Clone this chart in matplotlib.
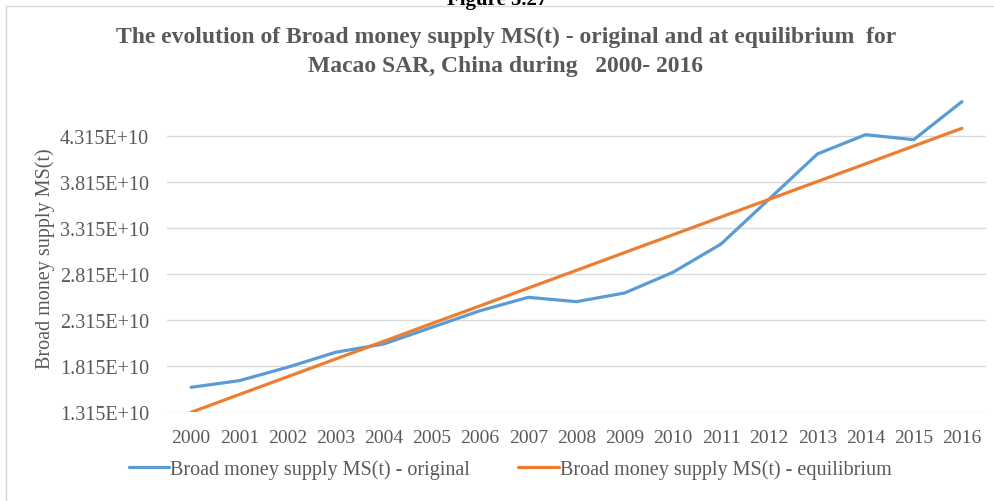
import matplotlib
matplotlib.use("Agg")
import matplotlib.pyplot as plt
from matplotlib.lines import Line2D

# Dados (valores em unidades monetárias)
anos = [str(a) for a in range(2000, 2017)]
ms_original = [1.586e10, 1.658e10, 1.803e10, 1.966e10, 2.056e10, 2.237e10, 2.417e10,
               2.562e10, 2.515e10, 2.609e10, 2.833e10, 3.140e10, 3.628e10, 4.117e10,
               4.326e10, 4.272e10, 4.684e10]
ms_equilibrio = [1.315e10, 1.508e10, 1.700e10, 1.893e10, 2.085e10, 2.278e10, 2.470e10,
                 2.663e10, 2.855e10, 3.048e10, 3.240e10, 3.433e10, 3.625e10, 3.818e10,
                 4.010e10, 4.203e10, 4.395e10]
yticks = [1.315e10, 1.815e10, 2.315e10, 2.815e10, 3.315e10, 3.815e10, 4.315e10]
ytick_labels = ["1.315E+10", "1.815E+10", "2.315E+10", "2.815E+10",
                "3.315E+10", "3.815E+10", "4.315E+10"]

plt.rcParams["font.family"] = ["Liberation Serif", "DejaVu Serif"]

fig = plt.figure(figsize=(9.95, 5.02), dpi=100)
W, H = 995, 502
ax = fig.add_axes([167 / W, 1 - 413.3 / H, (986 - 167) / W, (413.3 - 95) / H])

x = list(range(len(anos)))
ax.plot(x, ms_original, color="#5b9bd5", lw=2.3, label="Broad money supply MS(t) - original",
        solid_capstyle="round", zorder=3)
ax.plot(x, ms_equilibrio, color="#ed7d31", lw=2.3, label="Broad money supply MS(t) - equilibrium",
        solid_capstyle="round", zorder=3)

ax.set_xlim(-0.5, len(anos) - 0.5)
ax.set_ylim(1.315e10, 1.315e10 + (413.3 - 95) / 92.2 * 1e10)
ax.set_xticks(x)
ax.set_xticklabels(anos)
ax.set_yticks(yticks)
ax.set_yticklabels(ytick_labels)
ax.tick_params(length=0, labelcolor="#595959")
ax.tick_params(axis="x", pad=12, labelsize=14)
ax.tick_params(axis="y", pad=13, labelsize=14.5)
ax.grid(axis="y", color="#d9d9d9", lw=1)
ax.set_axisbelow(True)
for s in ax.spines.values():
    s.set_visible(False)

# Rótulo do eixo y
fig.text(45 / W, 1 - 259 / H, "Broad money supply MS(t)", rotation=90, fontsize=14.5,
         color="#595959", ha="center", va="center")

# Titulo
fig.text(506 / W, 1 - 52 / H,
         "The evolution of Broad money supply MS(t) - original and at equilibrium  for\n"
         "Macao SAR, China during   2000- 2016",
         ha="center", va="center", fontsize=17, fontweight="bold", color="#595959",
         linespacing=1.5)

# Texto cortado no topo
fig.text(497 / W, 1 - 5 / H, "Figure 5.27", ha="center", va="baseline",
         fontsize=15, fontweight="bold", color="black")

# Borda da área do gráfico
fig.add_artist(Line2D([6 / W, 1], [1 - 7 / H, 1 - 7 / H], color="#d9d9d9", lw=1))
fig.add_artist(Line2D([6 / W, 6 / W], [0, 1 - 7 / H], color="#d9d9d9", lw=1))

# Legenda
fig.legend(loc="center", bbox_to_anchor=(510 / W, 1 - 470 / H), ncol=2, frameon=False,
           fontsize=14.5, handlelength=2.0, handletextpad=0.05, columnspacing=2.4,
           labelcolor="#595959")

fig.savefig("out.png", dpi=100)
